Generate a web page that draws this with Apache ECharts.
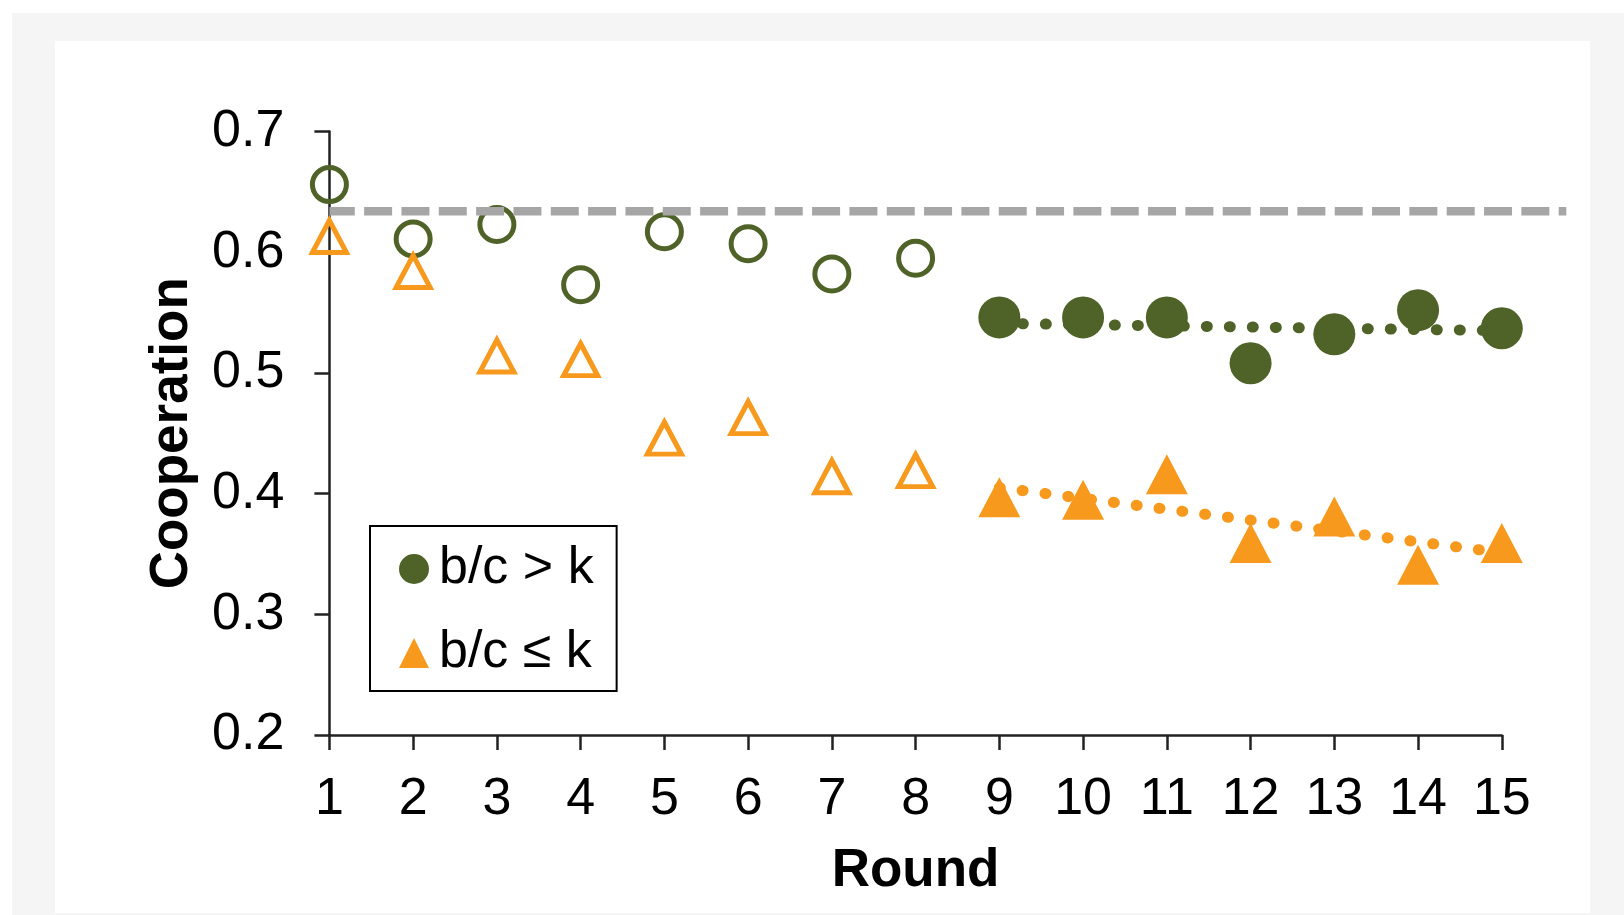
<!DOCTYPE html>
<html>
<head>
<meta charset="utf-8">
<title>Cooperation by round</title>
<script src="https://cdn.jsdelivr.net/npm/echarts@6/dist/echarts.min.js"></script>
<style>
	html, body { margin: 0; padding: 0; background: #fff; }
	#frame { position: absolute; left: 12px; top: 13px; width: 1612px; height: 902px; background: #f5f5f5; }
	#panel { position: absolute; left: 55px; top: 41px; width: 1535px; height: 872px; background: #fff; }
	#chart { position: absolute; left: 0; top: 0; width: 1624px; height: 915px; }
</style>
</head>
<body>
<div id="frame"></div>
<div id="panel"></div>
<div id="chart"></div>
<script>
	// rounds 1-8 are open markers, rounds 9-15 filled markers
	var roundsEarly = [1, 2, 3, 4, 5, 6, 7, 8];
	var roundsLate = [9, 10, 11, 12, 13, 14, 15];

	var highEarly = [0.656, 0.611, 0.623, 0.573, 0.617, 0.607, 0.582, 0.595];
	var lowEarly = [0.613, 0.584, 0.514, 0.511, 0.446, 0.463, 0.414, 0.419];
	var highLate = [0.546, 0.546, 0.546, 0.508, 0.532, 0.552, 0.537];
	var lowLate = [0.397, 0.395, 0.416, 0.359, 0.381, 0.341, 0.359];

	// linear trend over rounds 9-15 (end points)
	var trendX = [9, 15];
	var highTrend = [0.541, 0.535];
	var lowTrend = [0.405, 0.351];

	// dashed reference level, runs a little past round 15
	var refX = [1, 15.77];
	var refY = [0.634, 0.634];

	var legendNames = ['b/c > k', 'b/c ≤ k'];

	var GREEN = '#4f6228';
	var ORANGE = '#f7991c';
	var GREY = '#a6a6a6';
	var AXIS = '#222';
	var FONT = '"Liberation Sans", Arial, sans-serif';

	// plot box, and a wider copy for the reference line
	var PLOT_LEFT = 329.4, PLOT_TOP = 131.5, PLOT_W = 1172.4, PLOT_H = 603.5;
	var X_MIN = 1, X_MAX = 15, Y_MIN = 0.2, Y_MAX = 0.7;

	function pairs(xs, ys) {
		return xs.map(function (x, i) { return [x, ys[i]]; });
	}

	var chart = echarts.init(document.getElementById('chart'));

	var hiddenAxis = {
		show: false,
		splitLine: { show: false },
		axisLine: { show: false },
		axisTick: { show: false },
		axisLabel: { show: false }
	};

	var option = {
		animation: false,
		textStyle: { fontFamily: FONT },
		//网格
		grid: [
			{
				left: PLOT_LEFT,
				top: PLOT_TOP,
				width: PLOT_W,
				height: PLOT_H,
				containLabel: false,
				outerBoundsMode: 'none'
			},
			{
				left: PLOT_LEFT,
				top: PLOT_TOP,
				width: PLOT_W * (refX[1] - X_MIN) / (X_MAX - X_MIN),
				height: PLOT_H,
				containLabel: false,
				outerBoundsMode: 'none'
			}
		],
		//图例
		legend: {
			data: [
				{ name: legendNames[0], icon: 'circle' },
				{ name: legendNames[1], icon: 'triangle' }
			],
			orient: 'vertical',
			left: 370,
			top: 526,
			padding: [17, 23, 12, 29],
			itemWidth: 30,
			itemHeight: 30,
			itemGap: 32,
			borderColor: '#000',
			borderWidth: 2,
			backgroundColor: '#fff',
			selectedMode: false,
			itemStyle: { borderWidth: 0, opacity: 1 },
			textStyle: {
				fontFamily: FONT,
				fontSize: 52,
				lineHeight: 52,
				color: '#000',
				padding: [0, 0, 0, 5]
			}
		},
		//x轴
		xAxis: [
			{
				type: 'value',
				gridIndex: 0,
				min: X_MIN,
				max: X_MAX,
				interval: 1,
				name: 'Round',
				nameLocation: 'middle',
				nameGap: 110,
				nameTextStyle: { fontFamily: FONT, fontSize: 53, fontWeight: 'bold', color: '#000' },
				splitLine: { show: false },
				axisLine: { show: true, onZero: false, lineStyle: { color: AXIS, width: 2.5 } },
				axisTick: { show: true, inside: false, length: 15, lineStyle: { color: AXIS, width: 2.5 } },
				axisLabel: {
					margin: 39,
					fontFamily: FONT,
					fontSize: 52,
					color: '#000'
				}
			},
			echarts.util.extend({ type: 'value', gridIndex: 1, min: X_MIN, max: refX[1] }, hiddenAxis)
		],
		//y轴
		yAxis: [
			{
				type: 'value',
				gridIndex: 0,
				min: Y_MIN,
				max: Y_MAX,
				interval: 0.1,
				name: 'Cooperation',
				nameLocation: 'middle',
				nameGap: 131,
				nameTextStyle: { fontFamily: FONT, fontSize: 53, fontWeight: 'bold', color: '#000' },
				splitLine: { show: false },
				axisLine: { show: true, onZero: false, lineStyle: { color: AXIS, width: 2.5 } },
				axisTick: { show: true, inside: false, length: 15, lineStyle: { color: AXIS, width: 2.5 } },
				axisLabel: {
					margin: 45,
					fontFamily: FONT,
					fontSize: 52,
					color: '#000',
					formatter: function (v) { return v.toFixed(1); }
				}
			},
			echarts.util.extend({ type: 'value', gridIndex: 1, min: Y_MIN, max: Y_MAX }, hiddenAxis)
		],
		//系列列表
		series: [
			{
				name: 'early ' + legendNames[0],
				type: 'scatter',
				clip: false,
				silent: true,
				symbol: 'circle',
				symbolSize: 34,
				data: pairs(roundsEarly, highEarly),
				itemStyle: { color: 'rgba(255,255,255,0)', borderColor: GREEN, borderWidth: 5, opacity: 1 }
			},
			{
				name: 'early ' + legendNames[1],
				type: 'scatter',
				clip: false,
				silent: true,
				symbol: 'triangle',
				symbolSize: [34, 32],
				data: pairs(roundsEarly, lowEarly),
				itemStyle: { color: 'rgba(255,255,255,0)', borderColor: ORANGE, borderWidth: 5, opacity: 1 }
			},
			{
				name: legendNames[0],
				type: 'scatter',
				clip: false,
				silent: true,
				symbol: 'circle',
				symbolSize: 42,
				data: pairs(roundsLate, highLate),
				itemStyle: { color: GREEN, opacity: 1 }
			},
			{
				name: legendNames[1],
				type: 'scatter',
				clip: false,
				silent: true,
				symbol: 'triangle',
				symbolSize: [42, 40],
				data: pairs(roundsLate, lowLate),
				itemStyle: { color: ORANGE, opacity: 1 }
			},
			{
				name: 'trend high',
				type: 'line',
				clip: false,
				silent: true,
				symbol: 'none',
				data: pairs(trendX, highTrend),
				lineStyle: { color: GREEN, width: 11, type: [1, 22], cap: 'round', opacity: 1 }
			},
			{
				name: 'trend low',
				type: 'line',
				clip: false,
				silent: true,
				symbol: 'none',
				data: pairs(trendX, lowTrend),
				lineStyle: { color: ORANGE, width: 11, type: [1, 22], cap: 'round', opacity: 1 }
			},
			{
				name: 'reference',
				type: 'line',
				xAxisIndex: 1,
				yAxisIndex: 1,
				clip: false,
				silent: true,
				symbol: 'none',
				z: 5,
				data: pairs(refX, refY),
				lineStyle: { color: GREY, width: 8.5, type: [28, 9.33], dashOffset: 2.6, cap: 'butt' }
			}
		]
	};

	chart.setOption(option);
</script>
</body>
</html>
